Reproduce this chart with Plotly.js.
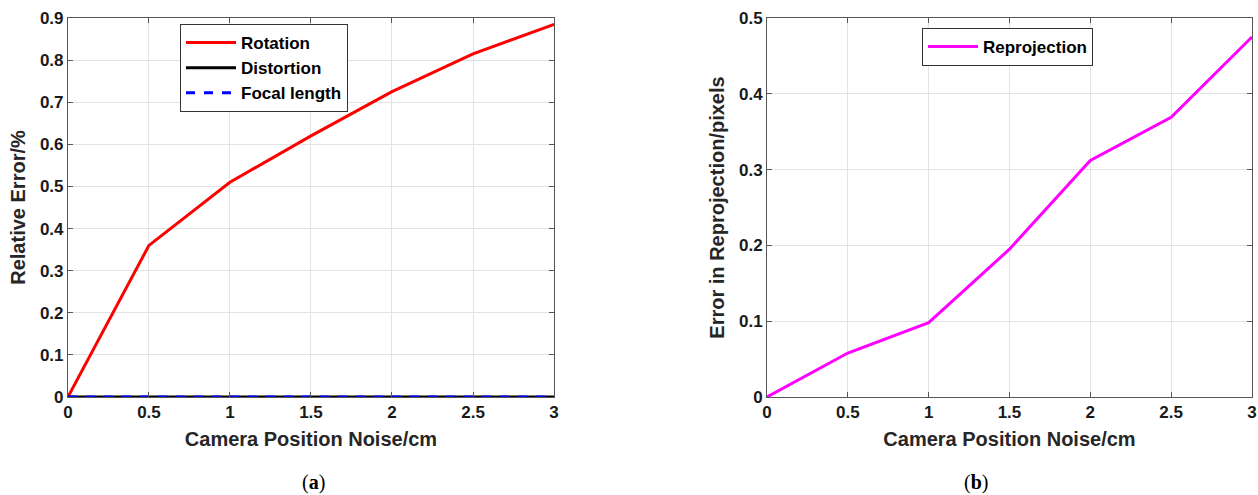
<!DOCTYPE html>
<html><head><meta charset="utf-8">
<script src="https://cdn.plot.ly/plotly-3.0.1.min.js"></script>
<style>html,body{margin:0;padding:0;background:#fff;}#c{width:1258px;height:495px;}</style>
</head><body><div id="c"></div>
<script>
const noise = [0, 0.5, 1, 1.5, 2, 2.5, 3];
const rotation = [0, 0.36, 0.51, 0.62, 0.725, 0.815, 0.885];
const distortion = [0, 0, 0, 0, 0, 0, 0];
const focalLength = [0, 0, 0, 0, 0, 0, 0];
const reprojection = [0, 0.058, 0.098, 0.195, 0.312, 0.369, 0.475];
const xTicks = [0, 0.5, 1, 1.5, 2, 2.5, 3];
const xTickText = ['0', '0.5', '1', '1.5', '2', '2.5', '3'];
const yTicksA = [0, 0.1, 0.2, 0.3, 0.4, 0.5, 0.6, 0.7, 0.8, 0.9];
const yTickTextA = ['0', '0.1', '0.2', '0.3', '0.4', '0.5', '0.6', '0.7', '0.8', '0.9'];
const yTicksB = [0, 0.1, 0.2, 0.3, 0.4, 0.5];
const yTickTextB = ['0', '0.1', '0.2', '0.3', '0.4', '0.5'];

const F = 'Liberation Sans, Arial, sans-serif';
const traces = [
  {x: noise, y: rotation, name: 'Rotation', mode: 'lines', line: {color: '#ff0000', width: 3}, xaxis: 'x', yaxis: 'y', legend: 'legend'},
  {x: noise, y: distortion, name: 'Distortion', mode: 'lines', line: {color: '#000000', width: 3}, xaxis: 'x', yaxis: 'y', legend: 'legend'},
  {x: noise, y: focalLength, name: 'Focal length', mode: 'lines', line: {color: '#0000ff', width: 3, dash: 'dash'}, xaxis: 'x', yaxis: 'y', legend: 'legend'},
  {x: noise, y: reprojection, name: 'Reprojection', mode: 'lines', line: {color: '#ff00ff', width: 3}, xaxis: 'x2', yaxis: 'y2', legend: 'legend2'}
];
const tf = {family: F, size: 17, color: '#1a1a1a', weight: 'bold'};
function xa(dom, anchor) {
  return {domain: dom, anchor: anchor, range: [0, 3], tickvals: xTicks, ticktext: xTickText,
    showgrid: true, gridcolor: '#e3e3e3', gridwidth: 1, zeroline: false,
    showline: true, linecolor: '#555', linewidth: 1, mirror: 'ticks', ticks: 'inside', ticklen: 5, tickcolor: '#555',
    tickfont: tf,
    title: {text: 'Camera Position Noise/cm', font: {family: F, size: 20, color: '#262626', weight: 'bold'}, standoff: 10}};
}
function ya(dom, anchor, range, ticks, text, title) {
  return {domain: dom, anchor: anchor, range: range, tickvals: ticks, ticktext: text,
    showgrid: true, gridcolor: '#e3e3e3', gridwidth: 1, zeroline: false,
    showline: true, linecolor: '#555', linewidth: 1, mirror: 'ticks', ticks: 'inside', ticklen: 5, tickcolor: '#555',
    tickfont: tf,
    title: {text: title, font: {family: F, size: 20, color: '#262626', weight: 'bold'}, standoff: 8}};
}
const layout = {
  width: 1258, height: 495, margin: {l: 0, r: 0, t: 0, b: 0},
  paper_bgcolor: '#fff', plot_bgcolor: '#fff', showlegend: true,
  xaxis: xa([0.054, 0.4404], 'y'),
  yaxis: ya([0.198, 0.9636], 'x', [0, 0.9], yTicksA, yTickTextA, 'Relative Error/%'),
  xaxis2: xa([0.6097, 0.9952], 'y2'),
  yaxis2: ya([0.198, 0.9636], 'x2', [0, 0.5], yTicksB, yTickTextB, 'Error in Reprojection/pixels'),
  legend: {x: 180/1258, y: 1 - 24/495, xanchor: 'left', yanchor: 'top', bgcolor: '#fff', bordercolor: '#333', borderwidth: 1,
    font: {family: F, size: 17, color: '#000', weight: 'bold'}, tracegroupgap: 0, itemwidth: 50},
  legend2: {x: 922/1258, y: 1 - 28/495, xanchor: 'left', yanchor: 'top', bgcolor: '#fff', bordercolor: '#333', borderwidth: 1,
    font: {family: F, size: 17, color: '#000', weight: 'bold'}, itemwidth: 50},
  annotations: [
    {text: '(<b>a</b>)', x: 300/1258, y: 1 - 482/495, xref: 'paper', yref: 'paper', yanchor: 'middle', showarrow: false, font: {family: 'Liberation Serif, Times New Roman, serif', size: 20, color: '#000'}},
    {text: '(<b>b</b>)', x: 990/1258, y: 1 - 482/495, xref: 'paper', yref: 'paper', yanchor: 'middle', showarrow: false, font: {family: 'Liberation Serif, Times New Roman, serif', size: 20, color: '#000'}}
  ]
};
Plotly.newPlot('c', traces, layout, {displayModeBar: false, staticPlot: true});
</script></body></html>
